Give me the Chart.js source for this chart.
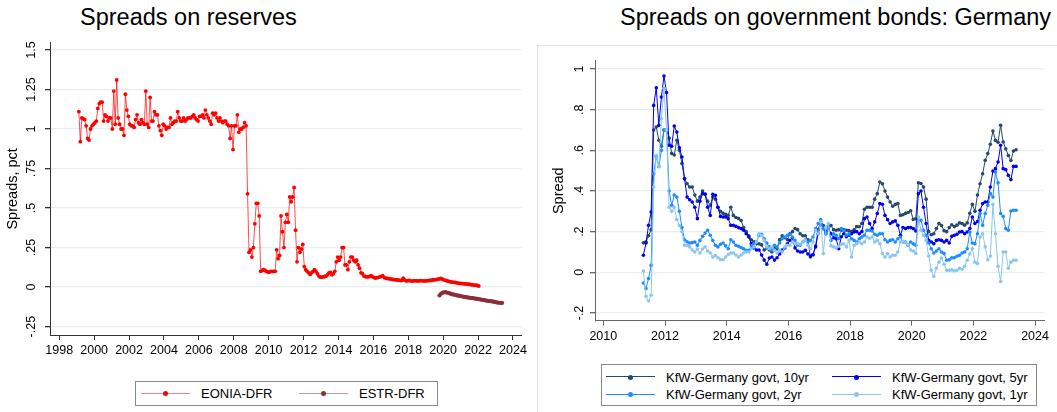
<!DOCTYPE html>
<html>
<head>
<meta charset="utf-8">
<script src="https://cdn.jsdelivr.net/npm/chart.js@4.4.1/dist/chart.umd.min.js"></script>
<style>
  body { margin: 0; background: #fff; font-family: "Liberation Sans", Arial, sans-serif; }
  #page { position: relative; width: 1057px; height: 412px; overflow: hidden; }
  .title { position: absolute; font-size: 23.5px; line-height: 26px; color: #000; white-space: nowrap; }
  canvas { position: absolute; }
  .frame { position: absolute; border: 1px solid #e2e2e2; box-sizing: border-box; }
  .legend { position: absolute; border: 1px solid #8a8a8a; box-sizing: border-box; }
  .txt { position: absolute; font-size: 13px; line-height: 15px; white-space: nowrap; color: #000; }
  .sample { position: absolute; height: 0; border-top: 1.5px solid; }
  .dot { position: absolute; width: 5px; height: 5px; border-radius: 50%; }
</style>
</head>
<body>
<div id="page">
  <div class="frame" style="left:537px;top:45px;width:522px;height:370px;"></div>
  <div class="title" style="left:80px;top:4px;">Spreads on reserves</div>
  <div class="title" style="left:620px;top:4px;">Spreads on government bonds: Germany</div>
  <canvas id="left" width="530" height="360" style="left:0;top:0;width:530px;height:360px;"></canvas>
  <canvas id="right" width="517" height="360" style="left:540px;top:0;width:517px;height:360px;"></canvas>
  <div class="legend" style="left:135px;top:381px;width:303px;height:25px;"></div>
  <div class="legend" style="left:601px;top:364px;width:436px;height:42px;"></div>
</div>
<script>
// monthly series, first value at the start date
const eoniaStart = 1999.125;
const eonia = [
  1.11, 0.92, 1.07, 1.065, 1.06, 1.02, 0.94, 0.93, 1.00, 1.02,
  1.03, 1.04, 1.05, 1.13, 1.16, 1.17, 1.17, 1.05, 1.09, 1.08,
  1.05, 1.07, 1.07, 1.00, 1.24, 1.03, 1.31, 1.07, 1.03, 1.00,
  1.00, 0.96, 1.22, 1.12, 1.08, 1.03, 1.02, 1.02, 1.01, 1.06,
  1.09, 1.04, 1.03, 1.06, 1.04, 1.03, 1.24, 1.03, 1.01, 1.20,
  1.05, 1.05, 1.11, 1.09, 1.09, 1.02, 0.99, 0.96, 1.03, 1.02,
  1.00, 1.01, 1.01, 1.07, 1.03, 1.04, 1.05, 1.05, 1.11, 1.07,
  1.05, 1.05, 1.07, 1.05, 1.06, 1.07, 1.07, 1.07, 1.08, 1.09,
  1.07, 1.06, 1.05, 1.08, 1.08, 1.09, 1.07, 1.12, 1.09, 1.07,
  1.05, 1.03, 1.10, 1.09, 1.10, 1.07, 1.05, 1.07, 1.05, 1.04,
  1.05, 1.05, 1.03, 1.02, 0.94, 1.02, 0.87, 1.02, 1.02, 1.09,
  0.98, 1.00, 1.00, 1.01, 1.04, 1.02, 0.59,
  0.22, 0.235, 0.19, 0.25, 0.40, 0.53, 0.53, 0.45, 0.10, 0.105,
  0.11, 0.105, 0.10, 0.095, 0.095, 0.10, 0.10, 0.10, 0.10,
  0.236, 0.18, 0.20, 0.45, 0.35, 0.25, 0.41, 0.46, 0.41, 0.57,
  0.54, 0.57, 0.63, 0.36, 0.16, 0.25, 0.22, 0.24, 0.27, 0.13,
  0.11, 0.10, 0.09, 0.08, 0.09, 0.10, 0.11, 0.10, 0.085, 0.07,
  0.063, 0.063, 0.065, 0.067, 0.07, 0.078, 0.09, 0.093, 0.078, 0.085, 0.10,
  0.16, 0.19, 0.17, 0.19, 0.25, 0.25, 0.14, 0.14, 0.11, 0.16,
  0.19, 0.19, 0.17, 0.16, 0.17, 0.14, 0.12, 0.09, 0.085, 0.07, 0.067,
  0.065, 0.065, 0.068, 0.072, 0.065, 0.06, 0.057, 0.06, 0.062, 0.065, 0.068, 0.072,
  0.06, 0.057, 0.055, 0.053, 0.052, 0.05, 0.048, 0.047, 0.046, 0.045, 0.044, 0.043, 0.042,
  0.057,
  0.045, 0.04, 0.04, 0.042, 0.04, 0.038, 0.04, 0.041, 0.04, 0.039, 0.04, 0.041, 0.04, 0.04, 0.039, 0.04, 0.041, 0.042,
  0.043, 0.045, 0.046, 0.046, 0.048, 0.05, 0.052, 0.055, 0.05, 0.046,
  0.043, 0.04, 0.037, 0.035, 0.033, 0.031, 0.03, 0.029, 0.027, 0.025, 0.024, 0.023,
  0.022, 0.021, 0.02, 0.019, 0.018, 0.017, 0.015, 0.014, 0.013, 0.012, 0.01, 0.007
];
const estrStart = 2019.79;
const estr = [
  -0.053, -0.042, -0.036, -0.033, -0.032, -0.034, -0.037, -0.04, -0.043, -0.046,
  -0.048, -0.05, -0.052, -0.054, -0.056, -0.058, -0.06, -0.062, -0.063, -0.065,
  -0.066, -0.068, -0.069, -0.07, -0.072, -0.073, -0.075, -0.077, -0.078, -0.08,
  -0.081, -0.083, -0.085, -0.087, -0.088, -0.089, -0.09, -0.092, -0.094, -0.096,
  -0.098, -0.099, -0.10, -0.10
];

const bondStart = 2011.30;
const kfw10 = [
  0.145, 0.15, 0.18, 0.21, 0.70, 0.715, 0.65, 0.62, 0.70, 0.70,
  0.66, 0.585, 0.577, 0.65, 0.60, 0.535, 0.46, 0.436, 0.42, 0.42,
  0.38, 0.35, 0.37, 0.40, 0.385, 0.35, 0.33, 0.37, 0.36, 0.32,
  0.30, 0.29, 0.285, 0.28, 0.32, 0.28, 0.27, 0.265, 0.255, 0.22,
  0.20, 0.18, 0.16, 0.15, 0.14, 0.14, 0.135, 0.11, 0.12, 0.11,
  0.10, 0.12, 0.115, 0.16, 0.18, 0.17, 0.16, 0.19, 0.20, 0.215,
  0.21, 0.19, 0.18, 0.18, 0.16, 0.075, 0.085, 0.13, 0.21, 0.25,
  0.23, 0.19, 0.23, 0.23, 0.21, 0.207, 0.21, 0.207, 0.21, 0.207,
  0.205, 0.20, 0.21, 0.225, 0.224, 0.24, 0.31, 0.32, 0.32, 0.32,
  0.36, 0.387, 0.444, 0.436, 0.40, 0.37, 0.346, 0.325, 0.334, 0.338,
  0.28, 0.283, 0.29, 0.294, 0.303, 0.26, 0.264, 0.44, 0.437, 0.42,
  0.36, 0.20, 0.185, 0.19, 0.215, 0.24, 0.23, 0.205, 0.20, 0.22,
  0.234, 0.225, 0.232, 0.243, 0.24, 0.232, 0.243, 0.29, 0.334, 0.30,
  0.38, 0.436, 0.485, 0.551, 0.584, 0.63, 0.695, 0.649, 0.64, 0.723,
  0.641, 0.608, 0.575, 0.55, 0.597, 0.603
];
const kfw5 = [
  0.084, 0.144, 0.231, 0.297, 0.821, 0.908, 0.723, 0.862, 0.966, 0.884,
  0.625, 0.62, 0.72, 0.69, 0.613, 0.567, 0.46, 0.37, 0.357, 0.346,
  0.32, 0.264, 0.35, 0.387, 0.384, 0.32, 0.28, 0.384, 0.379, 0.32,
  0.275, 0.272, 0.272, 0.264, 0.231, 0.231, 0.226, 0.22, 0.215, 0.207,
  0.19, 0.174, 0.141, 0.12, 0.11, 0.11, 0.085, 0.06, 0.04, 0.07,
  0.075, 0.06, 0.072, 0.09, 0.11, 0.12, 0.14, 0.157, 0.17, 0.12,
  0.105, 0.10, 0.10, 0.108, 0.09, 0.08, 0.088, 0.125, 0.19, 0.24,
  0.215, 0.20, 0.22, 0.19, 0.17, 0.165, 0.116, 0.175, 0.19, 0.175,
  0.183, 0.19, 0.198, 0.20, 0.19, 0.20, 0.264, 0.272, 0.24, 0.215,
  0.248, 0.289, 0.338, 0.335, 0.28, 0.259, 0.24, 0.248, 0.253, 0.231,
  0.182, 0.22, 0.215, 0.22, 0.22, 0.215, 0.203, 0.387, 0.40, 0.32,
  0.24, 0.157, 0.149, 0.141, 0.157, 0.16, 0.157, 0.149, 0.157, 0.144,
  0.177, 0.182, 0.187, 0.198, 0.20, 0.19, 0.198, 0.215, 0.272, 0.24,
  0.25, 0.305, 0.338, 0.346, 0.346, 0.42, 0.498, 0.51, 0.543, 0.625,
  0.51, 0.505, 0.477, 0.456, 0.521, 0.521
];
const kfw2 = [
  -0.053, -0.08, -0.031, 0.034, 0.485, 0.57, 0.52, 0.60, 0.70, 0.70,
  0.40, 0.33, 0.38, 0.37, 0.30, 0.22, 0.16, 0.15, 0.144, 0.146,
  0.149, 0.133, 0.157, 0.177, 0.193, 0.207, 0.182, 0.157, 0.133, 0.125,
  0.138, 0.144, 0.13, 0.116, 0.16, 0.149, 0.133, 0.128, 0.122, 0.116,
  0.108, 0.108, 0.13, 0.14, 0.149, 0.182, 0.187, 0.165, 0.144, 0.125,
  0.11, 0.133, 0.125, 0.144, 0.165, 0.174, 0.182, 0.187, 0.174, 0.157,
  0.133, 0.133, 0.149, 0.16, 0.149, 0.157, 0.174, 0.215, 0.24, 0.26,
  0.215, 0.19, 0.223, 0.157, 0.19, 0.182, 0.165, 0.215, 0.207, 0.182,
  0.19, 0.165, 0.157, 0.149, 0.165, 0.174, 0.182, 0.207, 0.207, 0.203,
  0.187, 0.182, 0.19, 0.19, 0.16, 0.149, 0.157, 0.16, 0.149, 0.165,
  0.174, 0.149, 0.149, 0.133, 0.149, 0.14, 0.133, 0.256, 0.256, 0.207,
  0.182, 0.144, 0.116, 0.095, 0.105, 0.116, 0.10, 0.092, 0.059, 0.062,
  0.072, 0.072, 0.079, 0.084, 0.095, 0.10, 0.116, 0.198, 0.144, 0.141,
  0.19, 0.289, 0.231, 0.289, 0.33, 0.387, 0.37, 0.494, 0.44, 0.289,
  0.275, 0.215, 0.207, 0.302, 0.305, 0.305
];
const kfw1 = [
  0.006, -0.118, -0.141, -0.113, 0.42, 0.576, 0.52, 0.755, 0.905, 0.70,
  0.32, 0.30, 0.32, 0.26, 0.23, 0.20, 0.133, 0.133, 0.125, 0.11,
  0.10, 0.115, 0.095, 0.115, 0.125, 0.105, 0.095, 0.075, 0.083, 0.072,
  0.062, 0.062, 0.075, 0.088, 0.095, 0.095, 0.085, 0.075, 0.085, 0.095,
  0.10, 0.10, 0.116, 0.125, 0.149, 0.19, 0.182, 0.157, 0.125, 0.116,
  0.125, 0.108, 0.095, 0.108, 0.10, 0.125, 0.133, 0.133, 0.149, 0.141,
  0.141, 0.138, 0.149, 0.157, 0.133, 0.116, 0.149, 0.207, 0.19, 0.248,
  0.092, 0.22, 0.24, 0.13, 0.125, 0.12, 0.128, 0.138, 0.14, 0.125,
  0.157, 0.075, 0.133, 0.141, 0.149, 0.141, 0.149, 0.174, 0.166, 0.174,
  0.149, 0.157, 0.141, 0.092, 0.075, 0.092, 0.075, 0.084, 0.084, 0.10,
  0.15, 0.15, 0.145, 0.135, 0.11, 0.105, 0.092, 0.272, 0.207, 0.182,
  0.157, 0.08, 0.01, -0.02, 0.02, 0.05, 0.07, 0.04, 0.01, 0.01,
  0.012, 0.008, 0.01, 0.02, 0.015, 0.03, 0.059, 0.09, 0.116, 0.05,
  0.043, 0.174, 0.19, 0.125, 0.062, 0.08, 0.334, 0.19, 0.03, -0.045,
  0.10, 0.10, 0.02, 0.05, 0.059, 0.059
];

const leftXTicks = [1998, 2000, 2002, 2004, 2006, 2008, 2010, 2012, 2014, 2016, 2018, 2020, 2022, 2024];
const leftYTicks = [-0.25, 0, 0.25, 0.5, 0.75, 1, 1.25, 1.5];
const leftYLabels = ['-.25', '0', '.25', '.5', '.75', '1', '1.25', '1.5'];
const rightXTicks = [2010, 2012, 2014, 2016, 2018, 2020, 2022, 2024];
const rightYTicks = [-0.2, 0, 0.2, 0.4, 0.6, 0.8, 1];
const rightYLabels = ['-.2', '0', '.2', '.4', '.6', '.8', '1'];

const leftNames = ['EONIA-DFR', 'ESTR-DFR'];
const leftColors = ['#ff0000', '#8b2f37'];
const rightNames = ['KfW-Germany govt, 10yr', 'KfW-Germany govt, 5yr', 'KfW-Germany govt, 2yr', 'KfW-Germany govt, 1yr'];
const rightColors = ['#24496a', '#0000ee', '#1e8cff', '#8cc6ef'];

Chart.defaults.font.family = '"Liberation Sans", Arial, sans-serif';
Chart.defaults.color = '#000';

function monthly(start, values) {
  return values.map((v, i) => ({ x: start + i / 12, y: v }));
}

function series(label, color, start, values, lineAlpha, order, radius) {
  return {
    label: label,
    data: monthly(start, values),
    borderColor: Chart.helpers.color(color).alpha(lineAlpha).rgbString(),
    backgroundColor: color,
    pointBackgroundColor: color,
    borderWidth: 1,
    pointRadius: radius,
    pointBorderWidth: 0,
    tension: 0,
    order: order
  };
}

function axes(o) {
  return {
    x: {
      type: 'linear', min: o.xmin, max: o.xmax,
      afterBuildTicks: s => { s.ticks = o.xticks.map(v => ({ value: v })); },
      afterFit: s => { s.height = o.xh; },
      grid: { drawOnChartArea: false, drawTicks: true, tickLength: 5, color: o.axis, lineWidth: 1 },
      border: { display: true, color: o.axis, width: 1 },
      ticks: { font: { size: 12.5 }, padding: 3, maxRotation: 0, autoSkip: false, callback: v => String(v) }
    },
    y: {
      type: 'linear', min: o.ymin, max: o.ymax,
      afterBuildTicks: s => { s.ticks = o.yticks.map(v => ({ value: v })); },
      afterFit: s => { s.width = o.yw; },
      grid: { color: '#e5eef0', lineWidth: 1.3, tickColor: o.axis, tickLength: 5, drawTicks: true },
      border: { display: true, color: o.axis, width: 1 },
      ticks: {
        font: { size: 12.5 }, padding: o.ypad, minRotation: 90, maxRotation: 90,
        crossAlign: 'center', autoSkip: false,
        callback: (v, i) => o.ylabels[i]
      },
      title: { display: true, text: o.ytitle, font: { size: 14.5 }, padding: { top: o.tpad, bottom: 0 } }
    }
  };
}

new Chart(document.getElementById('left'), {
  type: 'line',
  data: {
    datasets: [
      series(leftNames[0], leftColors[0], eoniaStart, eonia, 0.7, 1, 1.9),
      series(leftNames[1], leftColors[1], estrStart, estr, 0.7, 0, 2.1)
    ]
  },
  options: {
    responsive: false, animation: false,
    layout: { padding: { left: 0, top: 42.7, right: 7.3, bottom: 0 } },
    plugins: { legend: { display: false }, tooltip: { enabled: false } },
    scales: axes({
      xmin: 1997.47, xmax: 2024.5, xticks: leftXTicks, xh: 25,
      ymin: -0.303, ymax: 1.546, yticks: leftYTicks, ylabels: leftYLabels, yw: 50,
      ypad: 1, tpad: 4, ytitle: 'Spreads, pct', axis: '#333'
    })
  }
});

new Chart(document.getElementById('right'), {
  type: 'line',
  data: {
    datasets: [
      series(rightNames[0], rightColors[0], bondStart, kfw10, 1, 3, 1.8),
      series(rightNames[1], rightColors[1], bondStart, kfw5, 1, 2, 1.8),
      series(rightNames[2], rightColors[2], bondStart, kfw2, 1, 1, 1.8),
      series(rightNames[3], rightColors[3], bondStart, kfw1, 1, 0, 1.8)
    ]
  },
  options: {
    responsive: false, animation: false,
    layout: { padding: { left: 0, top: 60.7, right: 13, bottom: 0 } },
    plugins: { legend: { display: false }, tooltip: { enabled: false } },
    scales: axes({
      xmin: 2009.73, xmax: 2024.29, xticks: rightXTicks, xh: 39.3,
      ymin: -0.238, ymax: 1.041, yticks: rightYTicks, ylabels: rightYLabels, yw: 55,
      ypad: 3.5, tpad: 10.5, ytitle: 'Spread', axis: '#666'
    })
  }
});

// legends
const page = document.getElementById('page');
function legendItem(name, color, x0, cy, lineAlpha) {
  const line = document.createElement('div');
  line.className = 'sample';
  line.style.left = x0 + 'px';
  line.style.top = (cy - 0.75) + 'px';
  line.style.width = '49px';
  line.style.borderTopColor = Chart.helpers.color(color).alpha(lineAlpha).rgbString();
  page.appendChild(line);
  const dot = document.createElement('div');
  dot.className = 'dot';
  dot.style.left = (x0 + 22) + 'px';
  dot.style.top = (cy - 2.5) + 'px';
  dot.style.background = color;
  page.appendChild(dot);
  const t = document.createElement('div');
  t.className = 'txt';
  t.style.left = (x0 + 60) + 'px';
  t.style.top = (cy - 7.5) + 'px';
  t.textContent = name;
  page.appendChild(t);
}
legendItem(leftNames[0], leftColors[0], 141, 393.5, 0.5);
legendItem(leftNames[1], leftColors[1], 299, 393.5, 0.5);
legendItem(rightNames[0], rightColors[0], 606, 377, 1);
legendItem(rightNames[1], rightColors[1], 832, 377, 1);
legendItem(rightNames[2], rightColors[2], 606, 394.5, 1);
legendItem(rightNames[3], rightColors[3], 832, 394.5, 1);
</script>
</body>
</html>
